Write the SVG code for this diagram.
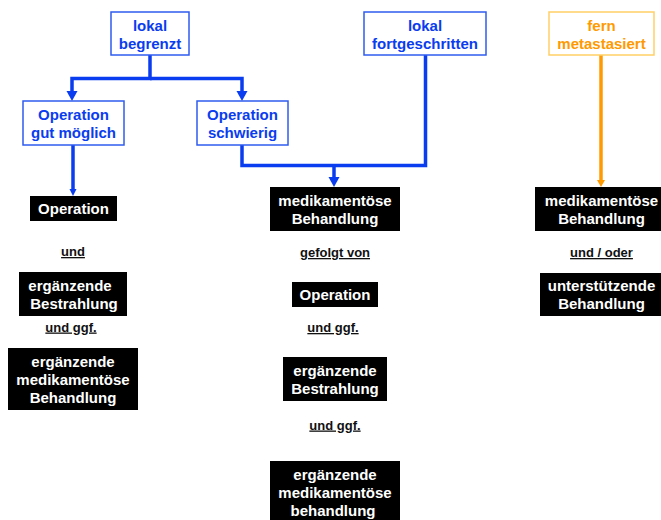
<svg xmlns="http://www.w3.org/2000/svg" width="661" height="520" viewBox="0 0 661 520">
<style>
text{font-family:"Liberation Sans",Arial,Helvetica,sans-serif;font-weight:bold;text-anchor:middle}
.bt{fill:#0a3cf0;font-size:15px}
.ot{fill:#ff9a00;font-size:15px}
.wt{fill:#ffffff;font-size:15px}
.lab{fill:#111111;font-size:13px;text-decoration:underline}
.bb{fill:#ffffff;stroke:#2f5cf0;stroke-width:1.5}
.ob{fill:#ffffff;stroke:#ffcf66;stroke-width:1.5}
.kb{fill:#000000}
.bl{fill:none;stroke:#0a3cf0;stroke-width:3.5}
.ol{fill:none;stroke:#ff9a00;stroke-width:3.5}
</style>
<rect width="661" height="520" fill="#ffffff"/>
<g id="connectors">
<polyline class="bl" points="150,55 150,78.5 72,78.5 72,92"/>
<polyline class="bl" points="150,78.5 242,78.5 242,92"/>
<polygon fill="#0a3cf0" points="66.5,91 77.5,91 72,101"/>
<polygon fill="#0a3cf0" points="236.5,91 247.5,91 242,101"/>
<polyline class="bl" points="73,145 73,190"/>
<polygon fill="#0a3cf0" points="69.5,189 76.5,189 73,196"/>
<polyline class="bl" points="242,145 242,165.5 425.5,165.5 425.5,55"/>
<polyline class="bl" points="334,165.5 334,178"/>
<polygon fill="#0a3cf0" points="328.5,177 339.5,177 334,187"/>
<polyline class="ol" points="601,55 601,181"/>
<polygon fill="#ff9a00" points="597,180 605,180 601,187"/>
</g>
<g id="lokal-begrenzt">
<rect class="bb" x="111" y="12" width="78" height="43"/>
<text class="bt" x="150" y="31">lokal</text>
<text class="bt" x="150" y="49">begrenzt</text>
</g>
<g id="lokal-fortgeschritten">
<rect class="bb" x="364" y="12" width="122" height="43"/>
<text class="bt" x="425" y="31">lokal</text>
<text class="bt" x="425" y="49">fortgeschritten</text>
</g>
<g id="fern-metastasiert">
<rect class="ob" x="549" y="12" width="105" height="43"/>
<text class="ot" x="601.5" y="31">fern</text>
<text class="ot" x="601.5" y="49">metastasiert</text>
</g>
<g id="op-gut">
<rect class="bb" x="23" y="101" width="101" height="44"/>
<text class="bt" x="73.5" y="120">Operation</text>
<text class="bt" x="73.5" y="138">gut möglich</text>
</g>
<g id="op-schwierig">
<rect class="bb" x="197" y="101" width="91" height="44"/>
<text class="bt" x="242.5" y="120">Operation</text>
<text class="bt" x="242.5" y="138">schwierig</text>
</g>
<g id="l-operation">
<rect class="kb" x="30" y="196" width="87" height="25"/>
<text class="wt" x="73.5" y="214">Operation</text>
</g>
<text class="lab" x="73" y="256">und</text>
<g id="l-bestrahlung">
<rect class="kb" x="19" y="272" width="108" height="44"/>
<text class="wt" x="70" y="291">ergänzende</text>
<text class="wt" x="74" y="309">Bestrahlung</text>
</g>
<text class="lab" x="71" y="331.5">und ggf.</text>
<g id="l-medikament">
<rect class="kb" x="8" y="348" width="130" height="62"/>
<text class="wt" x="73" y="367">ergänzende</text>
<text class="wt" x="73" y="385">medikamentöse</text>
<text class="wt" x="73" y="403">Behandlung</text>
</g>
<g id="m-medikament">
<rect class="kb" x="270" y="187" width="130" height="44"/>
<text class="wt" x="335" y="206">medikamentöse</text>
<text class="wt" x="335" y="224">Behandlung</text>
</g>
<text class="lab" x="335" y="257">gefolgt von</text>
<g id="m-operation">
<rect class="kb" x="292" y="282" width="86" height="25"/>
<text class="wt" x="335" y="300">Operation</text>
</g>
<text class="lab" x="333" y="332">und ggf.</text>
<g id="m-bestrahlung">
<rect class="kb" x="283" y="357" width="104" height="44"/>
<text class="wt" x="335" y="376">ergänzende</text>
<text class="wt" x="335" y="394">Bestrahlung</text>
</g>
<text class="lab" x="335" y="429.5">und ggf.</text>
<g id="m-medikament2">
<rect class="kb" x="270" y="461" width="130" height="62"/>
<text class="wt" x="335" y="480">ergänzende</text>
<text class="wt" x="335" y="498">medikamentöse</text>
<text class="wt" x="333" y="516">behandlung</text>
</g>
<g id="r-medikament">
<rect class="kb" x="535" y="187" width="130" height="44"/>
<text class="wt" x="601.5" y="206">medikamentöse</text>
<text class="wt" x="601.5" y="224">Behandlung</text>
</g>
<text class="lab" x="601.5" y="257">und / oder</text>
<g id="r-unterstuetzend">
<rect class="kb" x="540" y="273" width="125" height="43"/>
<text class="wt" x="601.5" y="291">unterstützende</text>
<text class="wt" x="601.5" y="309">Behandlung</text>
</g>
</svg>
